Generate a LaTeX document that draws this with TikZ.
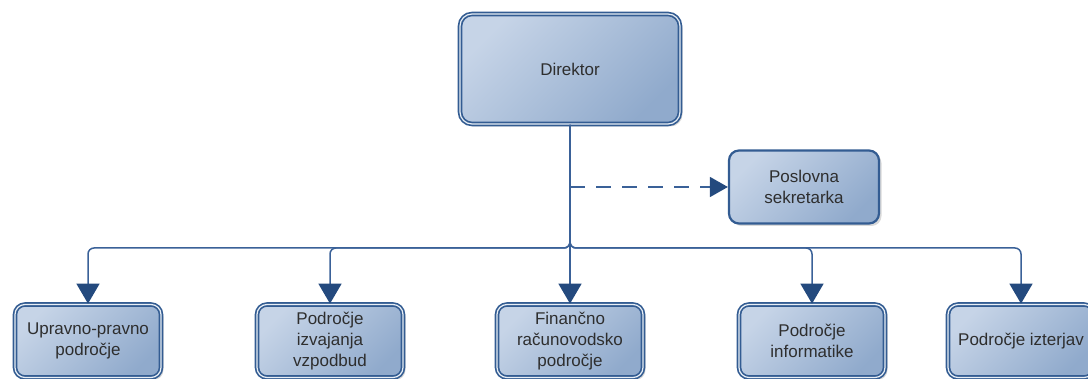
\documentclass[tikz,border=0pt]{standalone}
\usepackage{fontspec}
\setmainfont{Liberation Sans}
\usetikzlibrary{arrows.meta,shadows}

\definecolor{boxline}{HTML}{335C92}
\definecolor{boxlight}{HTML}{C6D4E7}
\definecolor{boxdark}{HTML}{90AACC}
\definecolor{linkcol}{HTML}{3A6198}
\definecolor{tipcol}{HTML}{244A7E}
\definecolor{txtcol}{HTML}{2E2E2E}

\begin{document}
\begin{tikzpicture}[x=1pt,y=-1pt,
  box/.style={rectangle, rounded corners=10pt, draw=boxline,
    top color=boxlight, bottom color=boxdark, shading angle=45,
    drop shadow={shadow xshift=2.5pt, shadow yshift=-2.5pt, opacity=0.3},
    text=txtcol, align=center, inner sep=0pt,
    font=\fontsize{17}{21}\selectfont},
  unit/.style={box, line width=1.7pt, double=boxlight!40!white, double distance=1.2pt,
    minimum width=146pt, minimum height=73pt},
  link/.style={draw=linkcol, line width=1.5pt, rounded corners=6pt,
    -{Triangle[length=20pt,width=23pt,color=tipcol]}}]

  \useasboundingbox (0,0) rectangle (1088,379);

  % boxes
  \node[unit, minimum width=220pt, minimum height=110pt, rounded corners=12pt] (dir) at (570,69) {Direktor};
  \node[box, line width=2.2pt, minimum width=150pt, minimum height=73pt] (sec) at (804,187) {Poslovna\\sekretarka};

  \node[unit] (upr) at (88,341) {Upravno-pravno\\področje};
  \node[unit] (izv) at (330,341) {Področje\\izvajanja\\vzpodbud};
  \node[unit] (fin) at (570,341) {Finančno\\računovodsko\\področje};
  \node[unit] (inf) at (812,341) {Področje\\informatike};
  \node[unit] (izt) at (1021,341) {Področje izterjav};

  % connectors
  \coordinate (bus) at (0,248);
  \coordinate (tap) at (570,187);

  \draw[link] (dir.south) -- (fin.north);
  \foreach \c in {upr,izv,inf,izt}
    \draw[link] (dir.south) -- (dir.south |- bus) -| (\c.north);

  \draw[link, dash pattern=on 15pt off 11pt,
    -{Triangle[length=18pt,width=20pt,color=tipcol]}] (tap) -- (sec.west);

\end{tikzpicture}
\end{document}
